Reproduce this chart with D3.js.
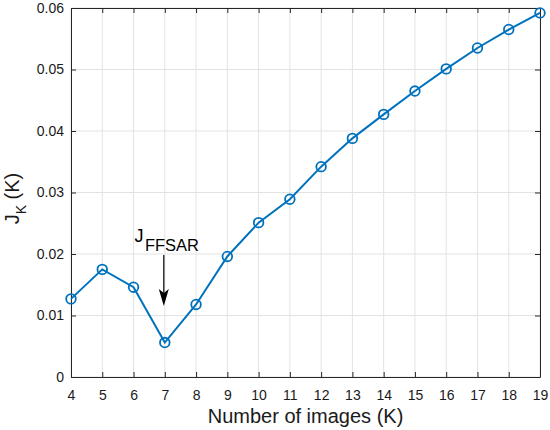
<!DOCTYPE html>
<html><head><meta charset="utf-8">
<script src="https://cdn.jsdelivr.net/npm/d3@7"></script>
<style>body{margin:0;background:#fff}svg{display:block}text{font-family:Arial,"Liberation Sans",Helvetica,sans-serif}</style>
</head><body><svg id="c" width="550" height="430"></svg>
<script>
const kValues = [4,5,6,7,8,9,10,11,12,13,14,15,16,17,18,19];
const jValues = [0.0127,0.0175,0.0146,0.0056,0.0118,0.0196,0.0251,0.0289,0.0342,0.0388,0.0427,0.0465,0.0501,0.0535,0.0565,0.0592];
const xTicks = [4,5,6,7,8,9,10,11,12,13,14,15,16,17,18,19];
const yTicks = [0,0.01,0.02,0.03,0.04,0.05,0.06];
const annotK = 7;

const svg = d3.select("#c");
const L=71, R=540, T=8, B=377;
const x = d3.scaleLinear().domain([4,19]).range([L,R]);
const y = d3.scaleLinear().domain([0,0.06]).range([B,T]);
const axisCol="#262626";

// grid
const g = svg.append("g");
g.selectAll(".gx").data(xTicks).enter().append("line")
  .attr("x1",d=>x(d)).attr("x2",d=>x(d)).attr("y1",T).attr("y2",B)
  .attr("stroke","#e3e3e3").attr("stroke-width",1);
g.selectAll(".gy").data(yTicks).enter().append("line")
  .attr("x1",L).attr("x2",R).attr("y1",d=>y(d)).attr("y2",d=>y(d))
  .attr("stroke","#e3e3e3").attr("stroke-width",1);

// axes with inward ticks
const fmtY = d=> d===0 ? "0" : d3.format(".2f")(d);
const ax = svg.append("g").attr("transform",`translate(0,${B})`)
  .call(d3.axisBottom(x).tickValues(xTicks).tickSize(-5).tickPadding(13).tickSizeOuter(0));
const ay = svg.append("g").attr("transform",`translate(${L},0)`)
  .call(d3.axisLeft(y).tickValues(yTicks).tickFormat(fmtY).tickSize(-5).tickPadding(7).tickSizeOuter(0));
const axT = svg.append("g").attr("transform",`translate(0,${T})`)
  .call(d3.axisTop(x).tickValues(xTicks).tickSize(-5).tickFormat("").tickSizeOuter(0));
const ayR = svg.append("g").attr("transform",`translate(${R},0)`)
  .call(d3.axisRight(y).tickValues(yTicks).tickSize(-5).tickFormat("").tickSizeOuter(0));
[ax,ay,axT,ayR].forEach(a=>{
  a.selectAll("path").attr("stroke",axisCol).attr("stroke-width",1);
  a.selectAll("line").attr("stroke",axisCol);
  a.selectAll("text").attr("fill","#1a1a1a").style("font-size","14px");
});

// line & markers
const col="#0072BD";
svg.append("path").datum(kValues.map((k,i)=>[k,jValues[i]]))
  .attr("d",d3.line().x(d=>x(d[0])).y(d=>y(d[1])))
  .attr("fill","none").attr("stroke",col).attr("stroke-width",2);
svg.selectAll(".m").data(kValues.map((k,i)=>[k,jValues[i]])).enter().append("circle")
  .attr("cx",d=>x(d[0])).attr("cy",d=>y(d[1])).attr("r",4.8)
  .attr("fill","none").attr("stroke",col).attr("stroke-width",1.8);

// annotation
svg.append("text").attr("x",134.5).attr("y",241.5).attr("fill","#000")
  .style("font-size","18px").text("J");
svg.append("text").attr("x",145).attr("y",251).attr("fill","#000")
  .style("font-size","16px").attr("textLength",54).attr("lengthAdjust","spacingAndGlyphs").text("FFSAR");
const ax0 = x(annotK)-1;
svg.append("line").attr("x1",ax0).attr("x2",ax0).attr("y1",255).attr("y2",296)
  .attr("stroke","#000").attr("stroke-width",1.2);
svg.append("path").attr("d",`M${ax0},306 L${ax0-5},289 L${ax0},293 L${ax0+5},289 Z`).attr("fill","#000");

// axis labels
svg.append("text").attr("x",(L+R)/2).attr("y",423).attr("text-anchor","middle")
  .style("font-size","20px").attr("fill","#1a1a1a").text("Number of images (K)");
const yl = svg.append("text").attr("transform","translate(19,198.5) rotate(-90)")
  .attr("text-anchor","middle").style("font-size","20px").attr("fill","#1a1a1a");
yl.append("tspan").text("J");
yl.append("tspan").attr("dy",7).style("font-size","14px").text("K");
yl.append("tspan").attr("dy",-7).text(" (K)");
</script></body></html>
